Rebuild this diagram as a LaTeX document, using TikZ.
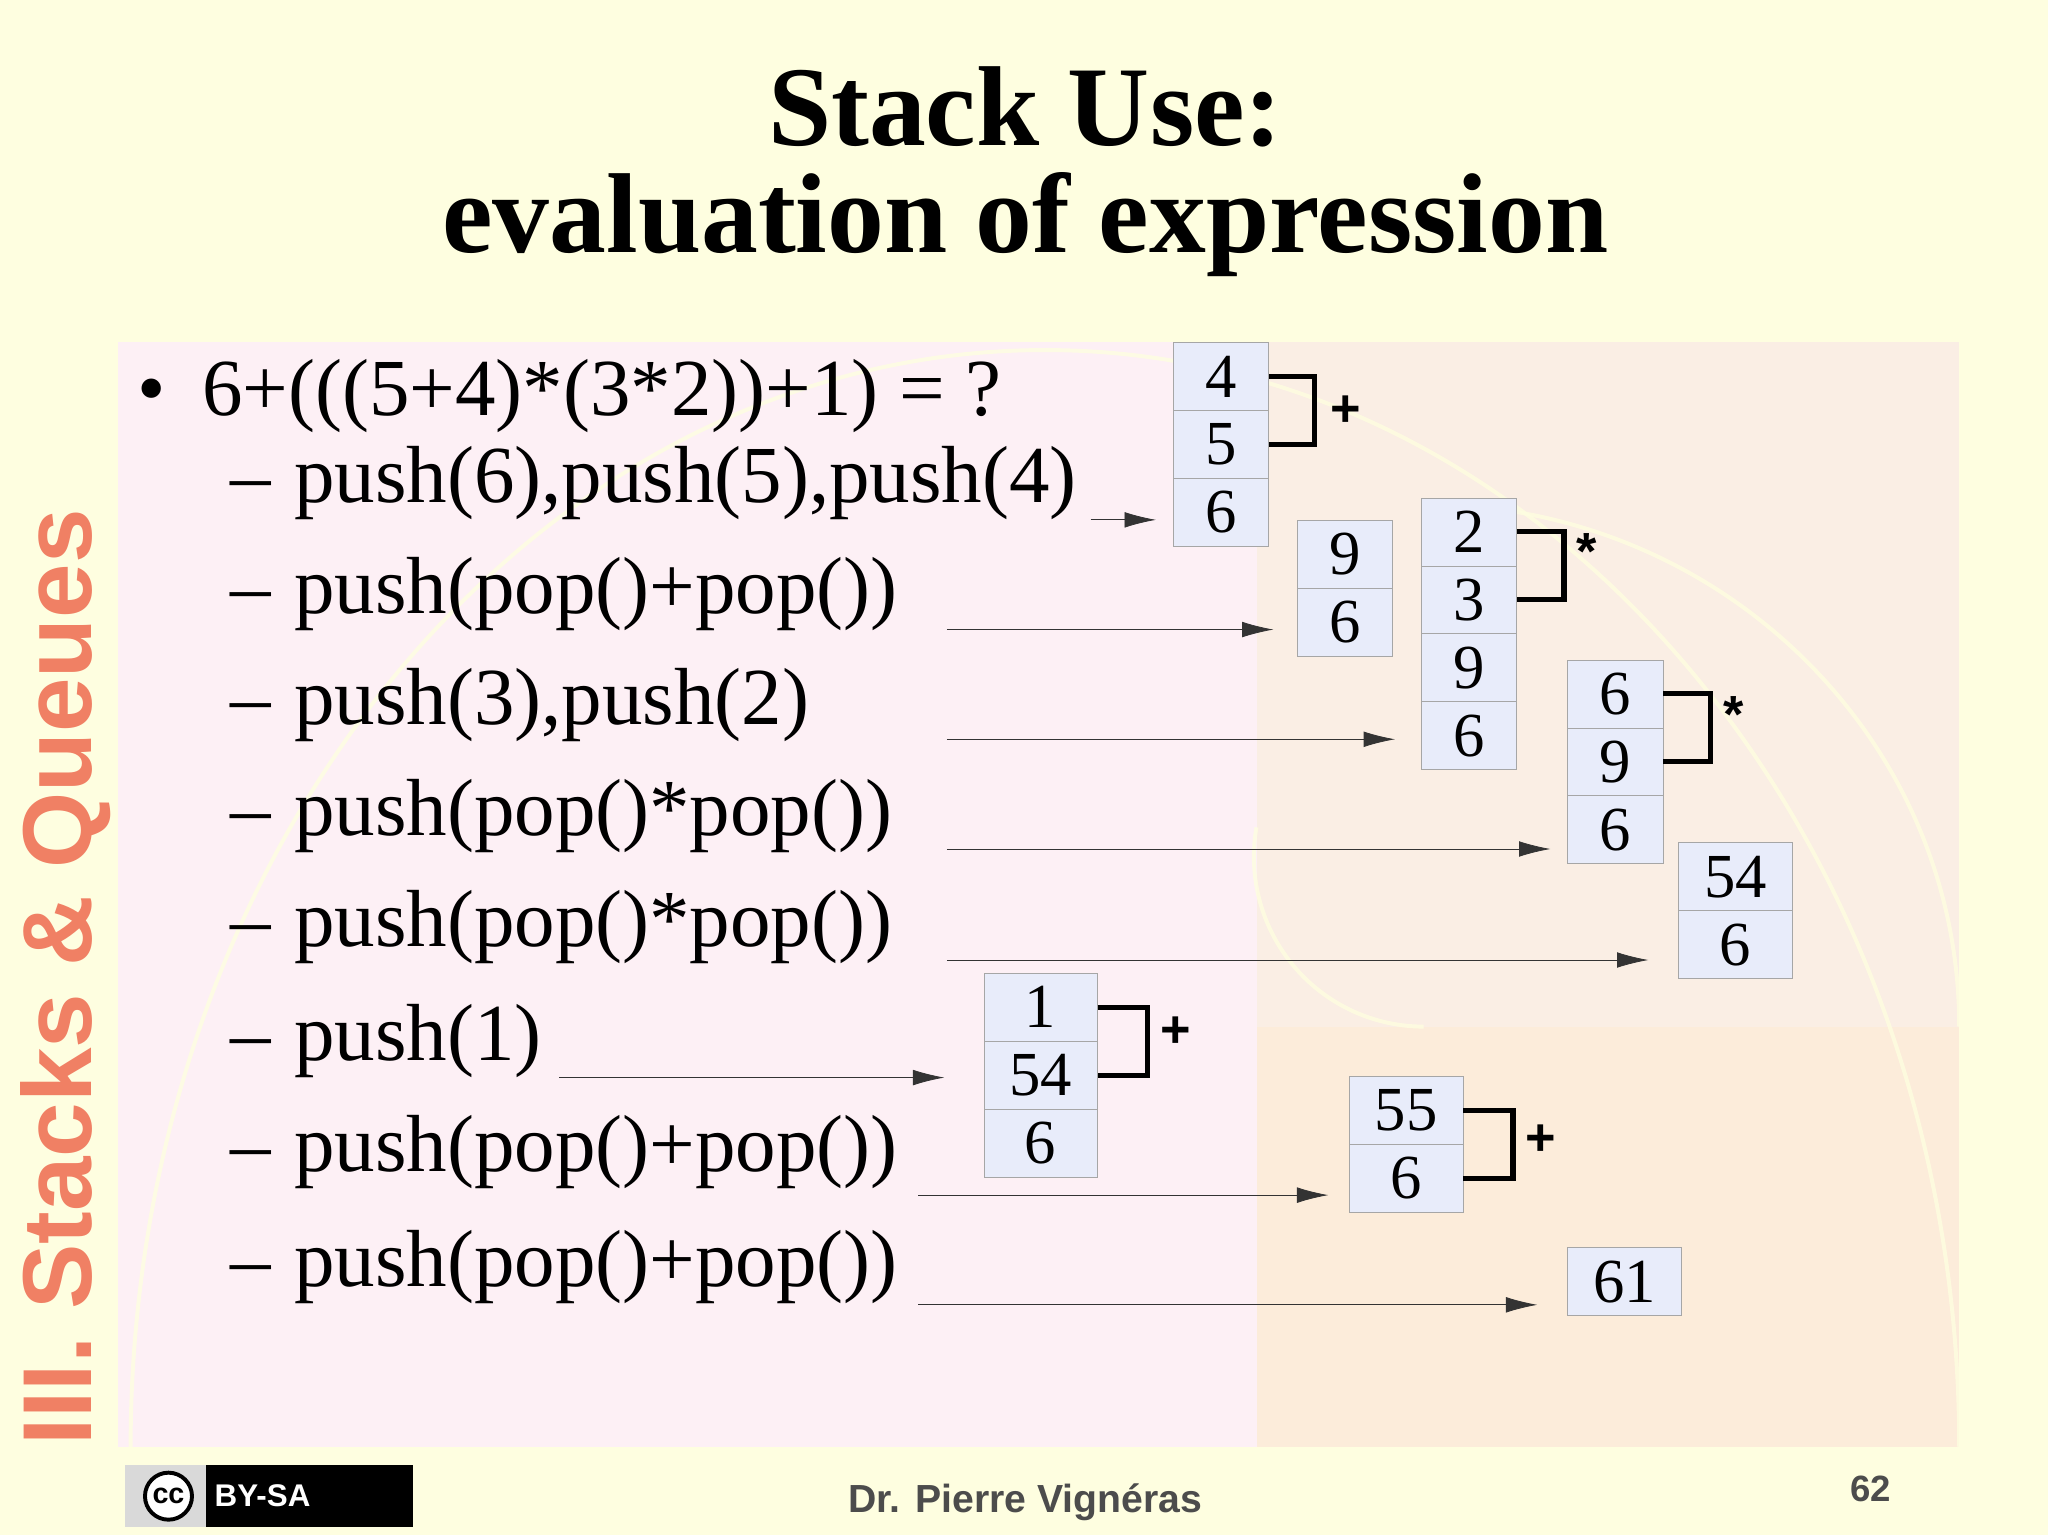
\documentclass[tikz,border=0pt]{standalone}
\usepackage{fontspec}
\setmainfont{Liberation Serif}
\setsansfont{Liberation Sans}
\usetikzlibrary{arrows.meta}
\definecolor{bg}{RGB}{254,254,224}
\definecolor{pinkp}{RGB}{253,240,245}
\definecolor{beigep}{RGB}{250,238,228}
\definecolor{peachp}{RGB}{252,236,218}
\definecolor{cellf}{RGB}{232,236,250}
\definecolor{salmon}{RGB}{240,128,100}
\tikzset{
 cell/.style={draw=gray!70,fill=cellf,minimum width=#1,minimum height=52pt,inner sep=0pt,font=\fontsize{48}{48}\selectfont},
 cell/.default=73pt,
 item/.style={anchor=base west,inner sep=0pt,font=\fontsize{62}{64}\selectfont},
 arr/.style={draw=black!80,line width=0.6pt,-{Latex[length=24pt,width=12pt]}},
 brk/.style={line width=4pt,line join=miter},
 op/.style={font=\fontsize{40}{40}\bfseries\sffamily\selectfont,inner sep=0pt}
}
\begin{document}
\begin{tikzpicture}[x=1pt,y=-1pt]
\useasboundingbox (0,0) rectangle (1568,1175);
\fill[bg] (0,0) rectangle (1568,1175);
\fill[pinkp] (90,262) rectangle (962,1108);
\fill[beigep] (962,262) rectangle (1500,786);
\fill[peachp] (962,786) rectangle (1500,1108);
\begin{scope}
\clip (90,262) rectangle (1500,1108);
\draw[bg,line width=3pt,opacity=0.8] (1500,1108) arc[start angle=0,end angle=180,x radius=700,y radius=-840];
\draw[bg,line width=3pt,opacity=0.8] (1500,786) arc[start angle=0,end angle=90,x radius=410,y radius=-400];
\draw[bg,line width=3pt,opacity=0.8] (1090,786) arc[start angle=90,end angle=190,radius=130];
\end{scope}
% title
\node[font=\fontsize{87}{90}\bfseries\selectfont] (t1) at (785,82) {Stack Use:};
\node[font=\fontsize{87}{90}\bfseries\selectfont] (t2) at (785,172) {evaluation of expression};
% text
\node[item] (b0) at (105,318) {•\hspace{28pt}6+(((5+4)*(3*2))+1) = ?};
\foreach \y/\t/\n in {385/{push(6),push(5),push(4)}/i1,470/{push(pop()+pop())}/i2,555/{push(3),push(2)}/i3,640/{push(pop()*pop())}/i4,725/{push(pop()*pop())}/i5,812/{push(1)}/i6,897/{push(pop()+pop())}/i7,985/{push(pop()+pop())}/i8}{
 \node[item] (d\n) at (176,\y) {–};
 \node[item] (\n) at (225,\y) {\t};
}
% stacks
\newcommand{\stk}[4]{% name, x, ytop, list
 \foreach \v [count=\k] in {#4}{
  \node[cell,anchor=north west] (#1\k) at (#2,{#3+52*(\k-1)}) {\v};
 }}
\newcommand{\stkw}[4]{%
 \foreach \v [count=\k] in {#4}{
  \node[cell=87pt,anchor=north west] (#1\k) at (#2,{#3+52*(\k-1)}) {\v};
 }}
\stk{s}{898}{262}{4,5,6}
\stk{u}{993}{398}{9,6}
\stk{v}{1088}{381}{2,3,9,6}
\stk{w}{1200}{505}{6,9,6}
\stkw{x}{1285}{645}{54,6}
\stkw{y}{753}{745}{1,54,6}
\stkw{z}{1033}{824}{55,6}
\stkw{q}{1200}{955}{61}
% brackets
\draw[brk] (s1.east) -- ++(35,0) |- (s2.east);
\node[op] at (1030,315) {+};
\draw[brk] (v1.east) -- ++(36,0) |- (v2.east);
\node[op] at (1215,422) {*};
\draw[brk] (w1.east) -- ++(36,0) |- (w2.east);
\node[op] at (1327,547) {*};
\draw[brk] (y1.east) -- ++(38,0) |- (y2.east);
\node[op] at (900,790) {+};
\draw[brk] (z1.east) -- ++(38,0) |- (z2.east);
\node[op] at (1180,873) {+};
% arrows
\coordinate (a1) at (835,398); \draw[arr] (a1) -- (885,398);
\coordinate (a2) at (725,482); \draw[arr] (a2) -- (975,482);
\coordinate (a3) at (725,566); \draw[arr] (a3) -- (1068,566);
\coordinate (a4) at (725,650); \draw[arr] (a4) -- (1187,650);
\coordinate (a5) at (725,735); \draw[arr] (a5) -- (1262,735);
\coordinate (a6) at (428,825); \draw[arr] (a6) -- (723,825);
\coordinate (a7) at (703,915); \draw[arr] (a7) -- (1017,915);
\coordinate (a8) at (703,999); \draw[arr] (a8) -- (1177,999);
% side title
\node[rotate=90,anchor=west,text=salmon,font=\fontsize{75}{75}\bfseries\sffamily\selectfont,inner sep=0pt] (side) at (50,1107) {III. Stacks \& Queues};
% footer
\node[draw=black,line width=2pt,fill=black,minimum width=218pt,minimum height=45pt,anchor=north west] (cc) at (96,1122) {};
\fill[white!85!black] (cc.north west) rectangle ([xshift=62pt]cc.south west);
\draw[black,line width=3pt,fill=white] ([xshift=33pt]cc.west) circle (18pt);
\node[font=\fontsize{22}{22}\bfseries\sffamily\selectfont] at ([xshift=33pt]cc.west) {cc};
\node[text=white,font=\fontsize{24}{24}\bfseries\sffamily\selectfont] at ([xshift=105pt]cc.west) {BY-SA};
\node[text=black!70,font=\fontsize{30}{30}\bfseries\sffamily\selectfont] (auth) at (785,1150) {Dr. Pierre Vignéras};
\node[text=black!70,font=\fontsize{28}{28}\bfseries\sffamily\selectfont] (pg) at (1432,1140) {62};
\end{tikzpicture}
\end{document}
